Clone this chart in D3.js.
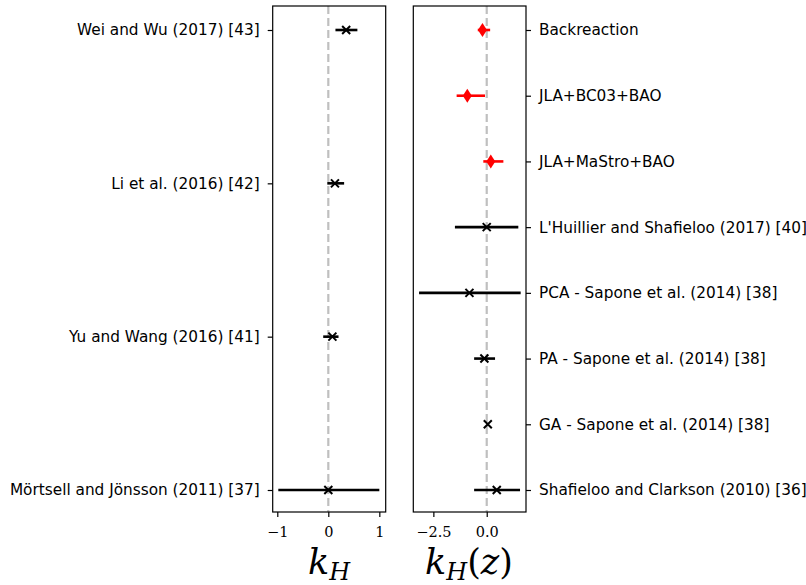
<!DOCTYPE html>
<html>
<head>
<meta charset="utf-8">
<script src="https://cdn.jsdelivr.net/npm/d3@7"></script>
<style>
  body { margin: 0; background: #fff; }
</style>
</head>
<body>
<div id="chart"></div>
<script>
// left panel: k_H
var leftNames = ["Wei and Wu (2017) [43]", "Li et al. (2016) [42]", "Yu and Wang (2016) [41]", "Mörtsell and Jönsson (2011) [37]"];
var leftVal = [0.35, 0.13, 0.08, 0.0];
var leftLo = [0.14, -0.02, -0.1, -0.98];
var leftHi = [0.57, 0.31, 0.2, 1.0];

// right panel: k_H(z)
var rightNames = ["Backreaction", "JLA+BC03+BAO", "JLA+MaStro+BAO", "L'Huillier and Shafieloo (2017) [40]",
  "PCA - Sapone et al. (2014) [38]", "PA - Sapone et al. (2014) [38]", "GA - Sapone et al. (2014) [38]",
  "Shafieloo and Clarkson (2010) [36]"];
var rightVal = [-0.2, -0.91, 0.19, 0.0, -0.81, -0.11, 0.05, 0.47];
var rightLo = [-0.42, -1.41, -0.16, -1.49, -3.17, -0.59, 0.0, -0.59];
var rightHi = [0.16, -0.08, 0.78, 1.48, 1.59, 0.39, 0.1, 1.56];
var rightRed = [true, true, true, false, false, false, false, false];

var leftTicks = [-1, 0, 1];
var rightTicks = [-2.5, 0.0];

var svgWidth = 806, svgHeight = 585;
var plotTop = 6, plotBottom = 512;

var svg = d3.select("#chart").append("svg")
  .attr("width", svgWidth)
  .attr("height", svgHeight);

function panel(opt) {
  var x = d3.scaleLinear().domain(opt.domain).range([opt.x0, opt.x1]);
  var y = d3.scalePoint().domain(opt.names).range([30, 490]);
  var g = svg.append("g");

  // zero line
  g.append("line")
    .attr("x1", x(0)).attr("x2", x(0))
    .attr("y1", plotTop).attr("y2", plotBottom)
    .attr("stroke", "#bfbfbf").attr("stroke-width", 2.2)
    .attr("stroke-dasharray", "8,4");

  var rows = opt.names.map(function (n, i) {
    return { name: n, v: opt.val[i], lo: opt.lo[i], hi: opt.hi[i], red: opt.red ? opt.red[i] : false };
  });

  g.selectAll(".err").data(rows).enter().append("line")
    .attr("x1", d => x(d.lo)).attr("x2", d => x(d.hi))
    .attr("y1", d => y(d.name)).attr("y2", d => y(d.name))
    .attr("stroke", d => d.red ? "#ff0000" : "#000").attr("stroke-width", 2.6);

  rows.forEach(function (d) {
    var cx = x(d.v), cy = y(d.name);
    if (d.red) {
      g.append("path")
        .attr("d", `M${cx},${cy - 7}L${cx + 4.5},${cy}L${cx},${cy + 7}L${cx - 4.5},${cy}Z`)
        .attr("fill", "#ff0000");
    } else {
      var s = 4;
      g.append("path")
        .attr("d", `M${cx - s},${cy - s}L${cx + s},${cy + s}M${cx - s},${cy + s}L${cx + s},${cy - s}`)
        .attr("stroke", "#000").attr("stroke-width", 2);
    }
  });

  // frame
  g.append("rect")
    .attr("x", opt.x0).attr("y", plotTop)
    .attr("width", opt.x1 - opt.x0).attr("height", plotBottom - plotTop)
    .attr("fill", "none").attr("stroke", "#000").attr("stroke-width", 1.2);

  // bottom axis
  var xa = g.append("g")
    .attr("transform", `translate(0,${plotBottom})`)
    .call(d3.axisBottom(x).tickValues(opt.ticks).tickSize(5).tickPadding(10)
      .tickFormat(opt.fmt));
  xa.select(".domain").remove();
  xa.selectAll("line").attr("stroke-width", 1.2);
  xa.selectAll("text")
    .style("font-family", '"DejaVu Serif", serif')
    .style("font-size", "14.5px");

  // y axis labels
  var ya = g.append("g")
    .attr("transform", `translate(${opt.side === "left" ? opt.x0 : opt.x1},0)`)
    .call((opt.side === "left" ? d3.axisLeft(y) : d3.axisRight(y)).tickSize(5).tickPadding(8));
  ya.select(".domain").remove();
  ya.selectAll("line").attr("stroke-width", 1.2);
  ya.selectAll("text")
    .style("font-family", '"DejaVu Sans", sans-serif')
    .style("font-size", "15.3px");
  return g;
}

panel({ names: leftNames, val: leftVal, lo: leftLo, hi: leftHi, domain: [-1.09, 1.125],
  x0: 272.7, x1: 385.7, ticks: leftTicks, side: "left",
  fmt: d => (d < 0 ? "\u2212" : "") + Math.abs(d) });

panel({ names: rightNames, val: rightVal, lo: rightLo, hi: rightHi, red: rightRed, domain: [-3.44, 1.84],
  x0: 413.3, x1: 526, ticks: rightTicks, side: "right",
  fmt: d => (d < 0 ? "\u2212" : "") + Math.abs(d).toFixed(1) });

// axis titles
var t1 = svg.append("text").attr("x", 329).attr("y", 574).attr("text-anchor", "middle")
  .style("font-family", '"DejaVu Serif", "Liberation Serif", serif').style("font-style", "italic").style("font-size", "35px");
t1.append("tspan").text("k");
t1.append("tspan").attr("dy", 6).style("font-size", "24px").text("H");

var t2 = svg.append("text").attr("x", 469).attr("y", 574).attr("text-anchor", "middle")
  .style("font-family", '"DejaVu Serif", "Liberation Serif", serif').style("font-style", "italic").style("font-size", "35px");
t2.append("tspan").text("k");
t2.append("tspan").attr("dy", 6).style("font-size", "24px").text("H");
t2.append("tspan").attr("dy", -6).style("font-style", "normal").text("(");
t2.append("tspan").text("z");
t2.append("tspan").style("font-style", "normal").text(")");
</script>
</body>
</html>
